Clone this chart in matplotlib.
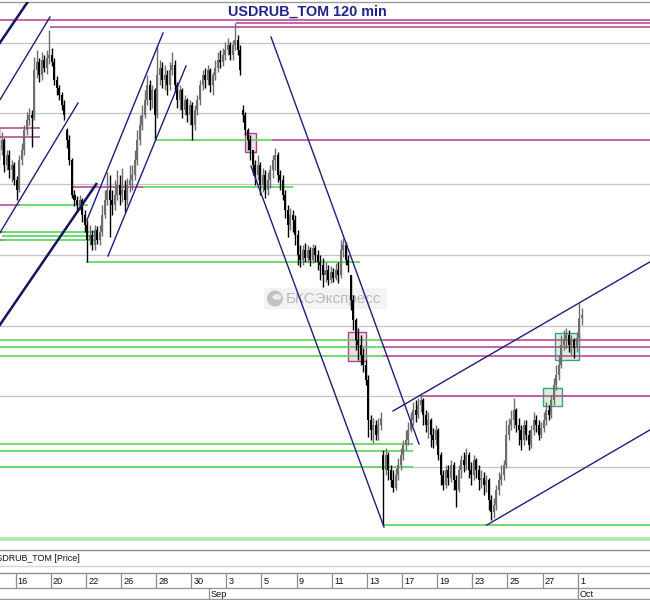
import matplotlib
matplotlib.use("Agg")
import matplotlib.pyplot as plt
from matplotlib.patches import Rectangle, Ellipse
import numpy as np

plt.rcParams['font.family'] = ['Liberation Sans', 'DejaVu Sans']

# ---------------- data (USDRUB_TOM, 120-min bars, price in kopecks) ----------------
opens = [
    6655, 6650, 6660, 6635, 6645, 6630, 6635, 6620, 6610, 6640,
    6650, 6670, 6680, 6685, 6682, 6730, 6738, 6725, 6740, 6732,
    6742, 6745, 6738, 6720, 6712, 6705, 6695, 6670, 6660, 6640,
    6605, 6600, 6595, 6600, 6585, 6575, 6560, 6565, 6555, 6570,
    6560, 6568, 6585, 6600, 6610, 6600, 6595, 6605, 6615, 6605,
    6610, 6600, 6615, 6620, 6625, 6640, 6660, 6675, 6685, 6700,
    6715, 6700, 6710, 6685, 6725, 6732, 6720, 6725, 6715, 6730,
    6735, 6715, 6700, 6710, 6690, 6700, 6685, 6695, 6675, 6690,
    6700, 6715, 6725, 6720, 6730, 6715, 6725, 6732, 6740, 6738,
    6745, 6750, 6755, 6745, 6755, 6760, 6750, 6690, 6685, 6670,
    6660, 6650, 6635, 6625, 6635, 6615, 6625, 6610, 6620, 6630,
    6640, 6645, 6625, 6620, 6605, 6590, 6575, 6585, 6580, 6565,
    6545, 6540, 6550, 6542, 6550, 6540, 6552, 6545, 6538, 6535,
    6525, 6530, 6520, 6528, 6522, 6530, 6525, 6550, 6555, 6540,
    6525, 6500, 6480, 6460, 6455, 6445, 6435, 6420, 6380, 6370,
    6375, 6365, 6375, 6345, 6330, 6345, 6330, 6320, 6312, 6325,
    6335, 6345, 6355, 6360, 6370, 6380, 6390, 6385, 6395, 6400,
    6385, 6375, 6380, 6365, 6360, 6370, 6345, 6325, 6315, 6330,
    6322, 6335, 6320, 6310, 6330, 6340, 6335, 6345, 6330, 6325,
    6340, 6330, 6320, 6322, 6315, 6320, 6300, 6288, 6295, 6310,
    6320, 6325, 6335, 6365, 6375, 6380, 6390, 6375, 6370, 6360,
    6375, 6365, 6355, 6370, 6380, 6375, 6365, 6372, 6380, 6390,
    6385, 6400, 6415, 6425, 6435, 6455, 6460, 6465, 6455, 6460,
    6452, 6462, 6482,
]
highs = [
    6672, 6668, 6662, 6650, 6650, 6640, 6638, 6624, 6645, 6657,
    6675, 6688, 6692, 6690, 6743, 6750, 6742, 6748, 6745, 6750,
    6770, 6752, 6742, 6724, 6715, 6708, 6700, 6672, 6665, 6642,
    6610, 6604, 6605, 6602, 6590, 6580, 6575, 6570, 6575, 6574,
    6575, 6595, 6610, 6628, 6625, 6610, 6620, 6630, 6625, 6632,
    6620, 6622, 6635, 6635, 6650, 6670, 6685, 6695, 6710, 6725,
    6720, 6715, 6712, 6755, 6740, 6738, 6735, 6730, 6738, 6748,
    6740, 6718, 6715, 6712, 6705, 6702, 6700, 6698, 6695, 6705,
    6720, 6730, 6732, 6735, 6732, 6728, 6740, 6748, 6750, 6752,
    6758, 6762, 6758, 6760, 6777, 6765, 6755, 6695, 6688, 6672,
    6665, 6650, 6640, 6645, 6638, 6632, 6630, 6628, 6635, 6645,
    6652, 6648, 6630, 6625, 6610, 6595, 6592, 6590, 6585, 6570,
    6555, 6555, 6557, 6555, 6553, 6556, 6555, 6550, 6545, 6542,
    6538, 6535, 6534, 6532, 6537, 6538, 6560, 6562, 6558, 6545,
    6525, 6505, 6482, 6472, 6465, 6452, 6440, 6425, 6385, 6382,
    6380, 6382, 6388, 6350, 6352, 6348, 6335, 6330, 6332, 6342,
    6352, 6360, 6370, 6378, 6388, 6398, 6400, 6402, 6405, 6402,
    6390, 6388, 6382, 6372, 6375, 6372, 6348, 6330, 6335, 6335,
    6340, 6338, 6325, 6335, 6345, 6348, 6352, 6348, 6338, 6345,
    6342, 6335, 6330, 6328, 6325, 6322, 6305, 6302, 6315, 6328,
    6335, 6340, 6380, 6382, 6390, 6402, 6392, 6382, 6375, 6380,
    6380, 6370, 6375, 6388, 6385, 6380, 6378, 6388, 6398, 6395,
    6405, 6422, 6435, 6445, 6465, 6470, 6472, 6470, 6465, 6462,
    6468, 6497, 6492,
]
lows = [
    6640, 6645, 6628, 6630, 6622, 6618, 6615, 6600, 6608, 6635,
    6645, 6665, 6675, 6653, 6680, 6722, 6718, 6720, 6728, 6726,
    6736, 6734, 6715, 6705, 6700, 6690, 6680, 6652, 6635, 6602,
    6594, 6588, 6590, 6578, 6568, 6538, 6555, 6550, 6550, 6556,
    6555, 6564, 6582, 6595, 6563, 6585, 6590, 6600, 6595, 6598,
    6588, 6595, 6608, 6610, 6620, 6635, 6655, 6670, 6682, 6695,
    6690, 6692, 6660, 6682, 6715, 6712, 6710, 6705, 6710, 6725,
    6708, 6692, 6690, 6682, 6685, 6678, 6675, 6660, 6670, 6685,
    6695, 6710, 6712, 6715, 6708, 6705, 6720, 6728, 6732, 6734,
    6740, 6745, 6740, 6740, 6750, 6745, 6725, 6678, 6665, 6650,
    6640, 6625, 6615, 6620, 6605, 6608, 6602, 6605, 6612, 6622,
    6630, 6618, 6610, 6600, 6582, 6563, 6570, 6568, 6555, 6535,
    6533, 6535, 6538, 6538, 6534, 6537, 6538, 6530, 6520, 6513,
    6518, 6515, 6517, 6518, 6520, 6517, 6522, 6543, 6535, 6528,
    6490, 6470, 6450, 6440, 6435, 6428, 6415, 6363, 6360, 6357,
    6360, 6360, 6370, 6275, 6325, 6320, 6313, 6308, 6310, 6320,
    6330, 6340, 6350, 6355, 6368, 6375, 6378, 6382, 6388, 6375,
    6368, 6362, 6353, 6352, 6355, 6340, 6315, 6310, 6312, 6315,
    6318, 6310, 6293, 6308, 6322, 6328, 6330, 6322, 6315, 6320,
    6322, 6310, 6312, 6305, 6308, 6290, 6280, 6282, 6290, 6305,
    6315, 6320, 6332, 6360, 6370, 6372, 6368, 6355, 6350, 6355,
    6360, 6350, 6352, 6365, 6368, 6360, 6362, 6368, 6375, 6380,
    6382, 6395, 6410, 6420, 6432, 6450, 6452, 6448, 6445, 6442,
    6448, 6460, 6475,
]
closes = [
    6650, 6660, 6635, 6645, 6630, 6635, 6620, 6610, 6640, 6650,
    6670, 6680, 6685, 6682, 6730, 6738, 6725, 6740, 6732, 6742,
    6745, 6738, 6720, 6712, 6705, 6695, 6685, 6660, 6640, 6605,
    6600, 6595, 6600, 6585, 6575, 6560, 6565, 6555, 6570, 6560,
    6568, 6585, 6600, 6610, 6600, 6595, 6605, 6615, 6605, 6610,
    6600, 6615, 6620, 6625, 6640, 6660, 6675, 6685, 6700, 6715,
    6700, 6710, 6685, 6725, 6732, 6720, 6725, 6715, 6730, 6735,
    6715, 6700, 6710, 6690, 6700, 6685, 6695, 6675, 6690, 6700,
    6715, 6725, 6720, 6730, 6715, 6725, 6732, 6740, 6738, 6745,
    6750, 6755, 6745, 6755, 6760, 6750, 6730, 6685, 6670, 6660,
    6650, 6635, 6625, 6635, 6615, 6625, 6610, 6620, 6630, 6640,
    6645, 6625, 6620, 6605, 6590, 6575, 6585, 6580, 6565, 6545,
    6540, 6550, 6542, 6550, 6540, 6552, 6545, 6538, 6535, 6525,
    6530, 6520, 6528, 6522, 6530, 6525, 6550, 6555, 6540, 6535,
    6500, 6480, 6460, 6455, 6445, 6435, 6420, 6380, 6370, 6375,
    6365, 6375, 6382, 6330, 6345, 6330, 6320, 6312, 6325, 6335,
    6345, 6355, 6360, 6370, 6380, 6390, 6385, 6395, 6400, 6385,
    6375, 6380, 6365, 6360, 6370, 6345, 6325, 6315, 6330, 6322,
    6335, 6320, 6310, 6330, 6340, 6335, 6345, 6330, 6325, 6340,
    6330, 6320, 6322, 6315, 6320, 6300, 6288, 6295, 6310, 6320,
    6325, 6335, 6365, 6375, 6380, 6390, 6375, 6370, 6360, 6375,
    6365, 6355, 6370, 6380, 6375, 6365, 6372, 6380, 6390, 6385,
    6400, 6415, 6425, 6435, 6455, 6460, 6465, 6455, 6460, 6452,
    6462, 6482, 6485,
]

# date axis: trading-day index (0 = Aug 15) and labels
day_index = [1, 3, 5, 7, 9, 11, 13, 15, 17, 19, 21, 23, 25, 27, 29, 31, 33]
day_labels = ['16', '20', '22', '26', '28', '30', '3', '5', '9', '11', '13',
              '17', '19', '23', '25', '27', '1']
month_index = [12, 33]
month_labels = ['Sep', 'Oct']
bars_per_day = 7

# horizontal grid levels (kopecks)
grid_levels = [6757, 6686.5, 6616, 6545, 6474, 6403.5, 6333, 6262]

# support/resistance levels: (price, from bar, to bar)
magenta_levels = [
    (6780, -3, 263), (6773, 20.2, 263), (6776.5, 94.3, 263),
    (6672, -3, 16.3), (6663, -3, 16.3), (6595, -3, 8.3),
    (6568, -3, 2.3), (6560, -3, 2.3), (6613, 29, 57.3),
    (6660, 108.7, 263), (6460, 152.9, 263), (6453, 152.9, 263),
    (6444, 152.9, 263), (6404, 167.7, 263),
]
green_levels = [
    (6595, 8.3, 35.4), (6568, 1, 38.2), (6564, 1, 38.2), (6560, 1, 38.2),
    (6613, 57.3, 117), (6660, 62.1, 108.7), (6538, 34.6, 143.7),
    (6460, -3, 152.9), (6453, -3, 152.9), (6444, -3, 152.9),
    (6356, -3, 164.9), (6349, -3, 164.9), (6333, -3, 164.9),
    (6275, 153.3, 263),
]
bottom_level = (6261, -3, 263)

# trend lines: (bar0, price0, bar1, price1)
thick_trends = [
    (-1.67, 6750, 11.87, 6800),
    (-1.67, 6468, 38.96, 6617),
]
thin_trends = [
    (-1.67, 6692, 20.24, 6783),
    (-1.67, 6559, 31.4, 6697),
    (34.98, 6580, 65.26, 6767),
    (43.35, 6544, 74.42, 6734),
    (108.3, 6763, 167.25, 6356),
    (100.3, 6634, 153.3, 6273),
    (156.89, 6389, 263.3, 6544),
    (194.3, 6275, 263.3, 6376),
]

# marked zones: (bar0, bar1, price_low, price_high)
pink_boxes = [(97.9, 102.3, 6648, 6667), (139, 146.1, 6439, 6468)]
teal_boxes = [(216.6, 224.2, 6394, 6412), (221.4, 231, 6440, 6467)]

# ---------------- figure ----------------
W, H = 650, 600
fig = plt.figure(figsize=(W / 100, H / 100), dpi=100)
ax = fig.add_axes([0, 51 / H, 1, 547 / H])
xmin, xmax = 0.32, 259.28
ax.set_xlim(xmin, xmax)
ax.set_ylim(6251, 6798)
ax.set_yticks(grid_levels)
ax.set_xticks([])
ax.tick_params(left=False, labelleft=False, bottom=False, labelbottom=False)
ax.grid(axis='y', color='#c4c4c4', lw=0.9, zorder=0)
ax.set_axisbelow(True)
for side in ['left', 'right', 'bottom']:
    ax.spines[side].set_visible(False)
ax.spines['top'].set_color('#9a9a9a')
ax.spines['top'].set_linewidth(1)

o = np.array(opens, float)
h = np.array(highs, float)
l = np.array(lows, float)
c = np.array(closes, float)
idx = np.arange(len(c))
up = c >= o
top = np.maximum(h, np.maximum(o, c))
bot = np.minimum(l, np.minimum(o, c))
up_col, dn_col = '#6e6e6e', '#000000'
ax.vlines(idx[up], bot[up], top[up], color=up_col, lw=1.0, zorder=3)
ax.vlines(idx[~up], bot[~up], top[~up], color=dn_col, lw=1.0, zorder=3)
body_lo = np.minimum(o, c)
body_h = np.maximum(np.abs(c - o), 1.5)
ax.bar(idx, body_h, bottom=body_lo, width=0.8,
       color=np.where(up, up_col, dn_col), linewidth=0, zorder=3)

# levels
mag_col = '#bb4a9c'
grn_col = '#55d655'
for p, x0, x1 in magenta_levels:
    ax.hlines(p, x0, x1, color=mag_col, lw=1.2, zorder=2)
for p, x0, x1 in green_levels:
    ax.hlines(p, x0, x1, color=grn_col, lw=1.2, zorder=2)
ax.hlines(bottom_level[0], bottom_level[1], bottom_level[2],
          color='#a6e8a6', lw=2.6, zorder=2)

# boxes
for x0, x1, p0, p1 in pink_boxes:
    ax.add_patch(Rectangle((x0, p0), x1 - x0, p1 - p0, facecolor='#f6d8ec',
                           edgecolor='#a04a84', lw=1.0, zorder=1.5))
for x0, x1, p0, p1 in teal_boxes:
    ax.add_patch(Rectangle((x0, p0), x1 - x0, p1 - p0, facecolor='#d6f2d6',
                           edgecolor='#3c9c9c', lw=1.0, zorder=1.5))

# trend lines
navy = '#1e1e7c'
for x0, y0, x1, y1 in thick_trends:
    ax.plot([x0, x1], [y0, y1], color='#14145e', lw=1.8, zorder=4,
            solid_capstyle='butt')
for x0, y0, x1, y1 in thin_trends:
    ax.plot([x0, x1], [y0, y1], color=navy, lw=1.0, zorder=4)

# watermark
ax.add_patch(Rectangle((264 / W, 1 - 309 / H), 123 / W, 21 / H,
                       transform=fig.transFigure, facecolor='#f3f3f3',
                       edgecolor='none', zorder=1.2))
ax.add_patch(Ellipse((275 / W, 1 - 298.5 / H), 16 / W, 16 / H,
                     transform=fig.transFigure, facecolor='#c2c2c2',
                     edgecolor='none', zorder=1.3))
ax.add_patch(Ellipse((277 / W, 1 - 297 / H), 9 / W, 6 / H,
                     transform=fig.transFigure, facecolor='#ececec',
                     edgecolor='none', zorder=1.35))
ax.text(286 / W, 1 - 299 / H, 'БКСЭкспресс', transform=fig.transFigure,
        fontsize=11, color='#b9b9b9', ha='left', va='center', zorder=1.4)

# title
fig.text(307 / W, 1 - 11.5 / H, 'USDRUB_TOM 120 min', ha='center', va='center',
         fontsize=10.4, fontweight='bold', color='#22228f')

# ---------------- date strip ----------------
ax2 = fig.add_axes([0, 0, 1, 51 / H])
ax2.set_xlim(xmin, xmax)
ax2.set_ylim(600, 549)
ax2.axis('off')
for yy, col in [(549.5, '#8c8c8c'), (566, '#d4d4d4'), (573, '#8c8c8c'),
                (588, '#9a9a9a'), (599, '#9a9a9a')]:
    ax2.axhline(yy, color=col, lw=1, clip_on=False)
tick_bars = [d * bars_per_day - 0.5 for d in day_index]
ax2.vlines(tick_bars, 573, 588, color='#8c8c8c', lw=0.9)
for tb, lab in zip(tick_bars, day_labels):
    ax2.text(tb + 0.9, 581, lab, fontsize=6.6, ha='left', va='center',
             color='#111111')
month_bars = [d * bars_per_day - 0.5 for d in month_index]
ax2.vlines(month_bars, 588, 599, color='#8c8c8c', lw=0.9)
for mb, lab in zip(month_bars, month_labels):
    ax2.text(mb + 0.9, 594, lab, fontsize=6.6, ha='left', va='center',
             color='#111111')
# series caption, cut at the left edge as in the original window
ax2.text(-3.86, 558.5, 'USDRUB_TOM [Price]', fontsize=6.4, ha='left',
         va='center', color='#111111')

fig.savefig('out.png', dpi=100)
